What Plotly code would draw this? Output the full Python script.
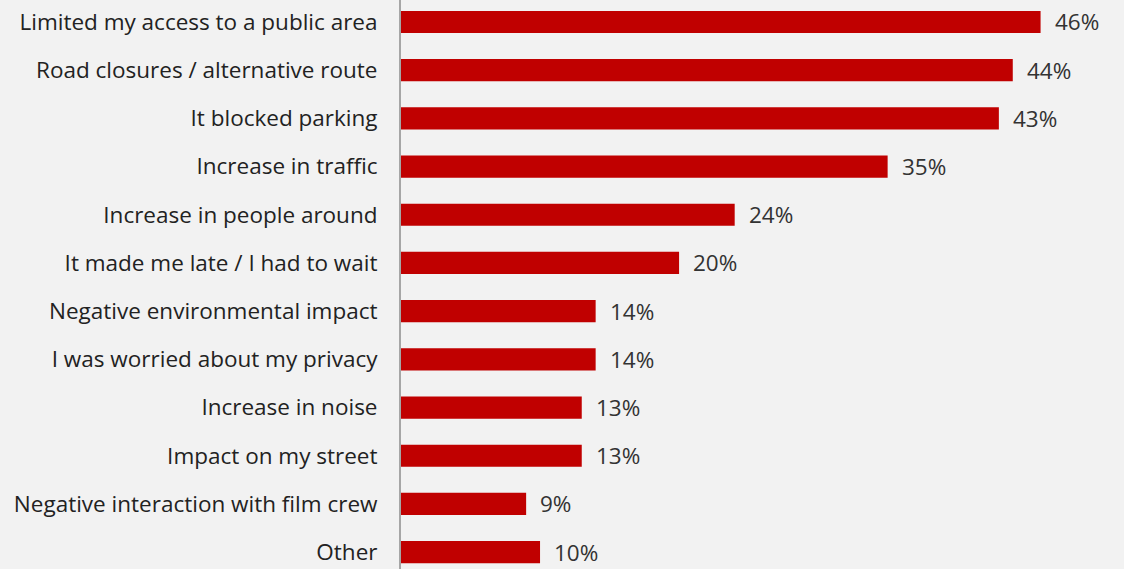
import plotly.graph_objects as go

categorias = [
    "Limited my access to a public area",
    "Road closures / alternative route",
    "It blocked parking",
    "Increase in traffic",
    "Increase in people around",
    "It made me late / I had to wait",
    "Negative environmental impact",
    "I was worried about my privacy",
    "Increase in noise",
    "Impact on my street",
    "Negative interaction with film crew",
    "Other",
]
valores = [46, 44, 43, 35, 24, 20, 14, 14, 13, 13, 9, 10]
rotulos = [f"{v}%" for v in valores]

fig = go.Figure(
    go.Bar(
        x=valores,
        y=categorias,
        orientation="h",
        marker_color="#c00000",
        marker_line_width=0,
        width=0.46,
        hoverinfo="skip",
    )
)

for v, c, r in zip(valores, categorias, rotulos):
    fig.add_annotation(
        x=v, y=c, text=r, showarrow=False,
        xanchor="left", xshift=12,
        font=dict(family="Open Sans", size=22.5, color="#333333"),
    )

fig.update_layout(
    width=1124,
    height=569,
    paper_bgcolor="#f2f2f2",
    plot_bgcolor="#f2f2f2",
    margin=dict(l=401, r=0, t=0, b=0),
    showlegend=False,
    font=dict(family="Open Sans", size=22.5, color="#222222"),
)
fig.update_xaxes(range=[0, 52], visible=False)
fig.update_yaxes(
    categoryorder="array",
    categoryarray=categorias,
    range=[11.35, -0.456],
    showline=True,
    linecolor="#a6a6a6",
    linewidth=2,
    showgrid=False,
    ticks="",
    ticklabelstandoff=17,
)

fig.write_html(
    "out.html",
    config={"displayModeBar": False},
    post_script="document.body.style.margin='0';",
)
